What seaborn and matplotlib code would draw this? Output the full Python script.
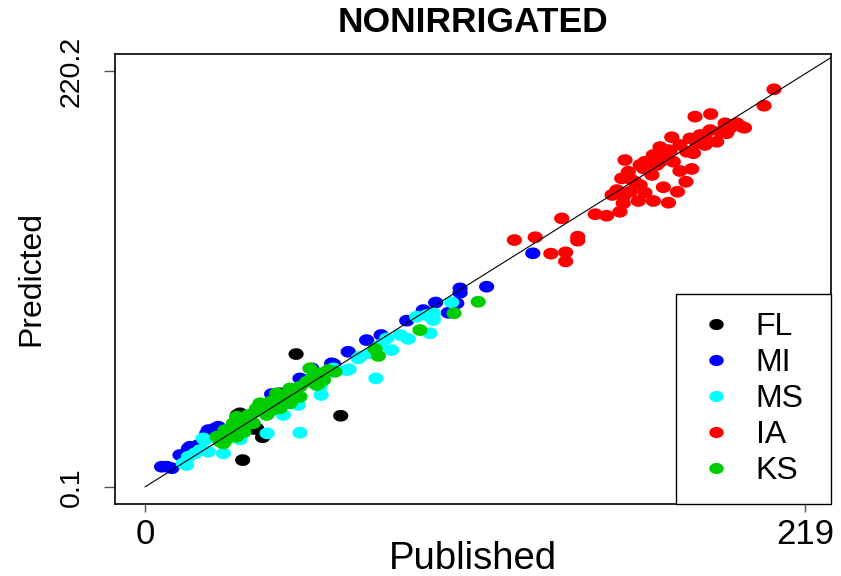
import numpy as np
import pandas as pd
import matplotlib
matplotlib.use('Agg')
import matplotlib.pyplot as plt
import seaborn as sns
from matplotlib.path import Path

# values (published vs predicted, by state)
fl_pub = [50.1, 64.9, 32.4, 39.0, 36.2, 30.6, 44.8, 31.5, 37.0]
fl_pred = [70.4, 37.7, 14.2, 26.3, 30.7, 38.1, 49.6, 39.0, 31.0]

mi_pub = [5.5, 7.3, 8.9, 11.6, 14.4, 14.9, 17.7, 20.5, 21.0, 22.1, 23.2, 24.3,
          42.0, 51.4, 55.3, 61.9, 62.5, 67.4, 73.5, 78.3, 86.8, 92.3, 96.4,
          100.6, 103.4, 104.5, 104.5, 113.3, 128.6]
mi_pred = [10.7, 10.7, 9.9, 16.9, 20.4, 21.3, 22.2, 28.4, 30.1, 29.2, 31.0, 31.9,
           49.2, 57.5, 62.8, 65.5, 65.1, 71.6, 77.8, 80.5, 88.1, 93.7, 97.7,
           92.3, 97.3, 105.2, 102.9, 106.1, 123.8]

ms_pub = [12.7, 13.8, 14.4, 16.6, 18.2, 19.3, 21.0, 19.9, 26.0, 26.5, 31.5,
          40.5, 45.9, 50.8, 51.4, 58.4, 58.0, 60.3, 62.5, 66.9, 67.7, 70.7,
          71.3, 74.6, 76.6, 77.9, 80.2, 81.8, 84.6, 87.3, 90.1, 93.4, 95.6,
          94.5, 95.6, 101.7]
ms_pred = [12.5, 11.6, 16.0, 17.8, 19.5, 25.7, 18.6, 24.8, 17.8, 23.9, 25.2,
           28.4, 38.1, 43.4, 28.7, 48.7, 53.1, 60.2, 62.8, 61.9, 62.3, 68.1,
           69.0, 70.8, 57.5, 75.2, 78.7, 72.5, 80.5, 78.4, 90.2, 91.1, 88.4,
           81.4, 92.0, 97.8]

ia_pub = [208.6, 205.3, 182.4, 187.6, 197.9, 192.4, 196.3, 190.7, 192.9, 185.7,
          180.8, 174.7, 183.0, 189.6, 177.4, 179.7, 174.1, 181.9, 168.6, 171.4,
          159.2, 165.8, 175.2, 169.7, 165.3, 181.3, 160.3, 168.1, 177.4, 158.1,
          162.5, 179.4, 171.9, 156.5, 160.9, 165.8, 176.6, 158.6, 163.6, 168.6,
          173.6, 158.6, 157.5, 149.3, 153.1, 138.2, 122.5, 129.4, 143.5, 143.5,
          134.6, 139.5, 139.5, 198.8, 184.1, 170.8, 164.2, 161.5, 167.0, 170.8,
          173.5, 184.1, 187.4, 194.0, 185.7, 164.2, 154.9]
ia_pred = [210.7, 202.0, 196.2, 197.6, 190.9, 192.7, 192.7, 188.2, 187.4, 186.5,
           184.7, 185.3, 182.1, 182.9, 181.2, 177.6, 177.6, 176.8, 175.9, 175.0,
           173.2, 172.3, 172.3, 170.6, 168.8, 168.5, 167.0, 165.3, 167.4, 163.5,
           161.7, 161.7, 158.8, 157.3, 156.4, 155.9, 156.4, 153.8, 151.5, 151.5,
           150.6, 150.3, 145.8, 144.5, 143.7, 142.3, 130.8, 132.3, 132.6, 130.5,
           123.6, 124.3, 119.5, 190.3, 183.7, 180.1, 170.6, 162.6, 167.9, 172.2,
           178.5, 186.5, 189.1, 190.2, 181.2, 160.0, 154.7]

ks_pub = [23.8, 24.9, 26.0, 26.5, 27.1, 28.2, 29.3, 29.3, 30.4, 30.4, 31.5,
          32.6, 33.7, 34.3, 35.9, 36.5, 37.0, 38.1, 39.2, 40.4, 41.5, 43.7,
          44.2, 44.8, 45.9, 47.0, 48.1, 48.1, 49.2, 51.4, 51.4, 53.6, 54.7,
          54.7, 55.8, 56.9, 58.0, 59.2, 60.8, 63.0, 76.3, 77.4, 91.2, 102.5,
          110.5, 27.5, 34.8, 42.1, 49.8, 57.4, 32.8]
ks_pred = [26.6, 23.9, 23.1, 30.1, 29.2, 27.5, 33.7, 31.9, 26.6, 37.2, 35.4,
           31.0, 37.2, 38.1, 33.7, 39.8, 41.6, 44.3, 43.4, 38.1, 45.1, 49.6,
           46.9, 41.6, 47.8, 48.7, 44.3, 52.2, 51.3, 53.1, 47.8, 55.7, 56.6,
           62.8, 58.4, 54.0, 60.2, 56.6, 61.9, 61.0, 73.1, 69.4, 83.1, 92.0,
           98.1, 25.9, 35.4, 40.7, 47.1, 54.5, 29.0]

states = ['FL', 'MI', 'MS', 'IA', 'KS']
state_colors = ['#000000', '#0000FF', '#00FFFF', '#FF0000', '#00CD00']
x_ticks = [0, 219]
x_tick_labels = ['0', '219']
y_ticks = [0.1, 220.2]
y_tick_labels = ['0.1', '220.2']


def build_frame():
    pubs = [fl_pub, mi_pub, ms_pub, ia_pub, ks_pub]
    preds = [fl_pred, mi_pred, ms_pred, ia_pred, ks_pred]
    parts = []
    for st, pub, pred in zip(states, pubs, preds):
        parts.append(pd.DataFrame({'Published': pub, 'Predicted': pred, 'State': st}))
    return pd.concat(parts, ignore_index=True)


df = build_frame()

sns.set_style('white')
plt.rcParams['font.family'] = ['Liberation Sans', 'DejaVu Sans']
plt.rcParams['text.color'] = 'black'
plt.rcParams['axes.labelcolor'] = 'black'
plt.rcParams['xtick.color'] = 'black'
plt.rcParams['ytick.color'] = 'black'

fig = plt.figure(figsize=(8.41, 5.76), dpi=100)
ax = fig.add_axes([115 / 841, 1 - 503.7 / 576, 716 / 841, 449.7 / 576])

# the dots in the original are a little wider than tall
t = np.linspace(0, 2 * np.pi, 41)
dot = Path(np.column_stack([np.cos(t), 0.77 * np.sin(t)]), closed=True)

sns.scatterplot(data=df, x='Published', y='Predicted', hue='State',
                hue_order=states, palette=state_colors, marker=dot, s=120,
                linewidth=0, ax=ax, zorder=3)

# 1:1 line
lim = max(ia_pub + ia_pred) * 1.1
ax.plot([0, lim], [0, lim], color='black', lw=0.8, zorder=4)

ax.set_xlim(-9.95, 227.5)
ax.set_ylim(-8.9, 229.4)
ax.set_xticks(x_ticks, x_tick_labels)
ax.set_yticks(y_ticks, y_tick_labels)
for lbl in ax.get_yticklabels():
    lbl.set_rotation(90)
    lbl.set_va('center')

ax.tick_params(axis='x', bottom=True, labelsize=25, length=5.8, pad=4.5,
               width=1, color='#555555', labelcolor='black', direction='out')
ax.tick_params(axis='y', left=True, labelsize=20.5, length=7.9, pad=14,
               width=1, color='#555555', labelcolor='black', direction='out')

for sp in ax.spines.values():
    sp.set_color('black')
    sp.set_linewidth(1.2)

ax.set_xlabel('Published', fontsize=27.5, color='black')
ax.xaxis.set_label_coords(0.5, -0.083)
ax.set_ylabel('Predicted', fontsize=23, color='black')
ax.yaxis.set_label_coords(-0.096, 0.5)
ax.set_title('NONIRRIGATED', fontsize=25.5, fontweight='bold', pad=16,
             color='black')

sns.move_legend(ax, 'lower left', bbox_to_anchor=(0.7835, 0, 0.2165, 0.4648),
                mode='expand', borderaxespad=0, title=None, fontsize=23,
                frameon=True, fancybox=False, framealpha=1, borderpad=0.55,
                labelspacing=0.19, handlelength=1.4, handletextpad=0.55,
                markerscale=0.95)
leg = ax.get_legend()
leg.get_frame().set_edgecolor('black')
leg.get_frame().set_linewidth(1.0)
for txt in leg.get_texts():
    txt.set_color('black')

fig.savefig('out.png', dpi=100)
